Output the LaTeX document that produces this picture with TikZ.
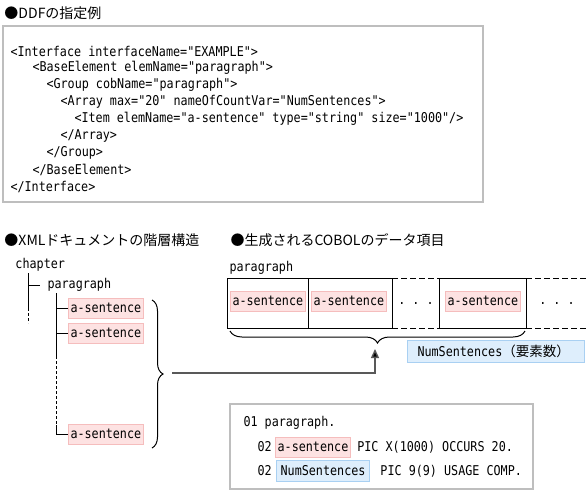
\documentclass[tikz,border=0pt]{standalone}
\usepackage{fontspec}
\setmonofont[FakeStretch=0.87]{DejaVu Sans Mono}
\newfontfamily\jpfont{Noto Sans CJK JP}
\usetikzlibrary{arrows.meta}
\usetikzlibrary{positioning}
\usetikzlibrary{decorations.pathreplacing}

\definecolor{pinkfill}{HTML}{FDE2E2}
\definecolor{pinkline}{HTML}{F5BDBD}
\definecolor{bluefill}{HTML}{DEEEFC}
\definecolor{blueline}{HTML}{A9D0F2}
\definecolor{framegray}{HTML}{BEBEBE}

\tikzset{
	titletxt/.style={font=\jpfont\fontsize{14}{16}\selectfont, anchor=west, inner sep=0pt},
	codetxt/.style={font=\ttfamily\fontsize{13.5}{15}\selectfont, anchor=west, inner sep=0pt},
	pinkbox/.style={codetxt, fill=pinkfill, draw=pinkline, inner xsep=2pt, minimum height=20pt},
	bluebox/.style={codetxt, fill=bluefill, draw=blueline, inner xsep=4pt, minimum height=21pt},
	framebox/.style={draw=framegray, line width=1.2pt},
	cbrace/.style={decorate, decoration={brace, amplitude=#1}, line width=1pt},
	dotted row/.style={dash pattern=on 6pt off 3pt},
}

\begin{document}
\begin{tikzpicture}[x=1pt, y=-1pt, line width=1pt]
	\useasboundingbox (0,0) rectangle (587,493);
	
	% DDF
	\node[titletxt] (ddftitle) at (4,13) {●DDFの指定例};
	\draw[framebox] (3,26) rectangle (483,202);
	\node[codetxt] (l1) at (10,51) {<Interface interfaceName="EXAMPLE">};
	\node[codetxt] (l2) at (32,68) {<BaseElement elemName="paragraph">};
	\node[codetxt] (l3) at (46,85) {<Group cobName="paragraph">};
	\node[codetxt] (l4) at (60,102) {<Array max="20" nameOfCountVar="NumSentences">};
	\node[codetxt] (l5) at (74,119) {<Item elemName="a-sentence" type="string" size="1000"/>};
	\node[codetxt] (l6) at (60,136) {</Array>};
	\node[codetxt] (l7) at (46,153) {</Group>};
	\node[codetxt] (l8) at (32,170) {</BaseElement>};
	\node[codetxt] (l9) at (10,187) {</Interface>};
	
	% XML tree
	\node[titletxt] (xmltitle) at (4,240) {●XMLドキュメントの階層構造};
	\node[codetxt] (chapter) at (15,265) {chapter};
	\node[codetxt] (para) at (47,285) {paragraph};
	\node[pinkbox] (s1) at (68,308) {a-sentence};
	\node[pinkbox] (s2) at (68,333) {a-sentence};
	\node[pinkbox] (s3) at (68,434) {a-sentence};
	\path (28,273) coordinate(ctop)
	(28,285) coordinate(cfork)
	(28,308) coordinate(cdash)
	(28,323) coordinate(cend)
	(56,293) coordinate(ptop)
	(56,308) coordinate(pf1)
	(56,333) coordinate(pf2)
	(56,356) coordinate(pdash)
	(56,425) coordinate(pdend)
	(56,434) coordinate(pf3);
	\draw (ctop) -- (cdash);
	\draw[dash pattern=on 3pt off 2pt] (cdash) -- (cend);
	\draw (cfork) -- ([xshift=-7pt]para.west);
	\draw (ptop) -- (pdash);
	\draw[dash pattern=on 3pt off 2pt] (pdash) -- (pdend);
	\draw (pdend) -- (pf3) -- (s3.west);
	\draw (pf1) -- (s1.west);
	\draw (pf2) -- (s2.west);
	\draw[cbrace=11pt] (152,300) coordinate(xbtop) -- (152,448) coordinate(xbbot);
	
	% COBOL
	\node[titletxt] (cobtitle) at (230,240) {●生成されるCOBOLのデータ項目};
	\node[codetxt] (cobpara) at (229,268) {paragraph};
	\draw (392,278) -- (227,278) -- (227,328) -- (392,328);
	\draw (308,278) -- (308,328);
	\draw (392,278) -- (392,328);
	\draw[dotted row] (392,278) -- (439,278);
	\draw[dotted row] (392,328) -- (439,328);
	\draw (439,278) rectangle (526,328);
	\draw[dotted row] (526,278) -- (587,278);
	\draw[dotted row] (526,328) -- (587,328);
	\node[pinkbox] (c1) at (230,301) {a-sentence};
	\node[pinkbox] (c2) at (311,301) {a-sentence};
	\node[codetxt, anchor=center] (gap1) at (416,303) {. . .};
	\node[pinkbox] (c4) at (445,301) {a-sentence};
	\node[codetxt, anchor=center] (gap2) at (557,303) {. . .};
	\draw[cbrace=12pt] (525,331) -- (230,331);
	\node[bluebox, text width=157pt, inner xsep=10pt, minimum height=22pt] (count) at (407,351) {NumSentences{\jpfont （要素数）}};
	
	\path (172,373) coordinate(xmltip)
	(375,349) coordinate(cobtip);
	\draw[draw=black!65, line width=1.4pt, -{Triangle[length=9pt, width=8pt, fill=black]}] (xmltip) -| (cobtip);
	
	% COBOL source
	\draw[framebox] (230,404) rectangle (533,489);
	\node[codetxt] (lvl1) at (243,423) {01 paragraph.};
	\node[codetxt] (lvl2a) at (257,447) {02};
	\node[pinkbox, right=3pt of lvl2a] (srcsent) {a-sentence};
	\node[codetxt, right=6pt of srcsent] (picx) {PIC X(1000) OCCURS 20.};
	\node[codetxt] (lvl2b) at (257,471) {02};
	\node[bluebox, right=4pt of lvl2b] (srccount) {NumSentences};
	\node[codetxt, right=10pt of srccount] (pic9) {PIC 9(9) USAGE COMP.};
	
\end{tikzpicture}
\end{document}
